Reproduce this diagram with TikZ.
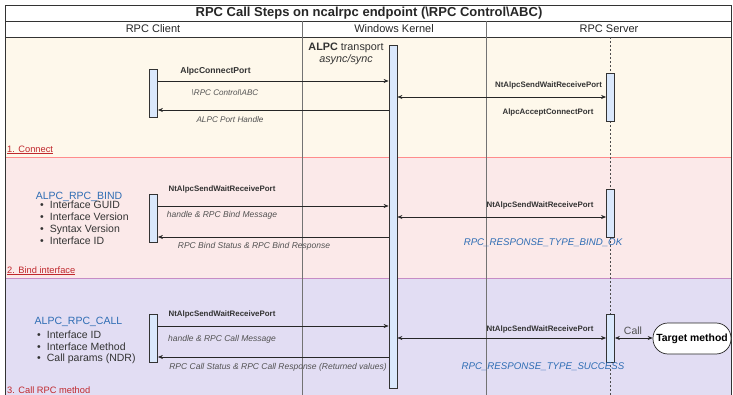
\documentclass[tikz,border=0pt]{standalone}
\usepackage{fontspec}
\setmainfont{Liberation Sans}
\usetikzlibrary{arrows.meta}
\definecolor{laneA}{HTML}{FEF8EB}
\definecolor{laneB}{HTML}{FBE9E9}
\definecolor{laneC}{HTML}{E2DDF3}
\definecolor{barfill}{HTML}{DAE8FC}
\definecolor{lblue}{HTML}{2E6DB4}
\definecolor{lred}{HTML}{C0282D}
\definecolor{txt}{HTML}{333333}
\definecolor{frame}{HTML}{333333}
\tikzset{
  actbar/.style={draw=frame,fill=barfill,line width=0.8pt,minimum width=8pt,inner sep=0pt},
  msg/.style={draw=black!85,line width=0.6pt,-{Stealth[length=5pt,width=4pt]}},
  dmsg/.style={draw=black!85,line width=0.6pt,{Stealth[length=5pt,width=4pt]}-{Stealth[length=5pt,width=4pt]}},
  boldlbl/.style={font=\fontsize{7.9}{9}\selectfont\bfseries,text=txt,inner sep=1pt},
  itlbl/.style={font=\fontsize{8.5}{10}\selectfont\itshape,text=txt!85,inner sep=1pt},
  bluelbl/.style={font=\fontsize{9.7}{11}\selectfont\itshape,text=lblue,inner sep=1pt},
  hdr/.style={font=\fontsize{11}{13}\selectfont,text=black!85},
  lanelbl/.style={font=\fontsize{9.3}{10}\selectfont,text=lred,anchor=south west,inner sep=1pt},
  structlbl/.style={font=\fontsize{10.5}{12}\selectfont,text=lblue,inner sep=1pt},
  bullets/.style={font=\fontsize{10.5}{11.8}\selectfont,text=txt,align=left,anchor=north west,inner sep=0pt},
}
\begin{document}
\begin{tikzpicture}[x=1pt,y=-1pt]
\useasboundingbox (0,0) rectangle (733,395);
% lanes
\fill[laneA] (5,37) rectangle (731,157);
\fill[laneB] (5,157) rectangle (731,278);
\fill[laneC] (5,278) rectangle (731,395);
\draw[draw=red!45!white,line width=0.7pt] (5,157) -- (731,157);
\draw[draw=violet!45!white,line width=0.7pt] (5,278) -- (731,278);
% frame
\draw[frame,line width=0.8pt] (5,395) -- (5,5) -- (731,5) -- (731,395);
\draw[frame,line width=0.8pt] (5,21) -- (731,21);
\draw[frame,line width=0.8pt] (5,37) -- (731,37);
\draw[black!55,line width=0.6pt] (302,21) -- (302,395);
\draw[black!55,line width=0.6pt] (486,21) -- (486,395);
% title and headers
\node[font=\fontsize{13}{15}\selectfont\bfseries,text=black!85] (title) at (369,13) {RPC Call Steps on ncalrpc endpoint (\textbackslash RPC Control\textbackslash ABC)};
\node[hdr] (hclient) at (153,29) {RPC Client};
\node[hdr] (hkernel) at (394,29) {Windows Kernel};
\node[hdr] (hserver) at (609,29) {RPC Server};
% server lifeline
\coordinate (slTop) at (610.5,37);
\coordinate (slBot) at (610.5,395);
\draw[black!70,line width=0.5pt,dash pattern=on 2pt off 2pt] (slTop) -- (slBot);
% kernel bar
\node[actbar,minimum height=343pt] (kb) at (393,216.5) {};
\node[font=\fontsize{10.8}{13}\selectfont,text=txt,align=center] (alpc) at (346,54) {\textbf{ALPC} transport\\[-1.5pt]\textit{async/sync}};
% lane labels
\node[lanelbl] (l1) at (6,155.5) {\underline{1. Connect}};
\node[lanelbl] (l2) at (6,276.5) {\underline{2. Bind interface}};
\node[lanelbl] (l3) at (6,394.5) {3. Call RPC method};

% ---- Connect
\node[actbar,minimum height=48pt] (cb1) at (153.5,93) {};
\node[actbar,minimum height=48pt] (sb1) at (610.5,97) {};
\draw[msg] (cb1.east |- 0,81) -- (kb.west |- 0,81);
\draw[msg] (kb.west |- 0,110) -- (cb1.east |- 0,110);
\node[boldlbl,font=\fontsize{8.6}{10}\selectfont\bfseries] (c1a) at (215.5,71) {AlpcConnectPort};
\node[itlbl,font=\fontsize{8.1}{10}\selectfont\itshape] (c1b) at (225,92.5) {\textbackslash RPC Control\textbackslash ABC};
\node[itlbl,font=\fontsize{8.2}{10}\selectfont\itshape] (c1c) at (230,119.5) {ALPC Port Handle};
\draw[dmsg] (kb.east |- 0,97) -- (sb1.west |- 0,97);
\node[boldlbl] (s1a) at (548.5,85.5) {NtAlpcSendWaitReceivePort};
\node[boldlbl] (s1b) at (548,112) {AlpcAcceptConnectPort};

% ---- Bind
\node[actbar,minimum height=48pt] (cb2) at (153.5,218) {};
\node[actbar,minimum height=48pt] (sb2) at (610.5,213) {};
\node[structlbl] (bindt) at (79,196.5) {ALPC\_RPC\_BIND};
\node[bullets] (bindl) at (40,201) {\textbullet\hspace{6pt}Interface GUID\\\textbullet\hspace{6pt}Interface Version\\\textbullet\hspace{6pt}Syntax Version\\\textbullet\hspace{6pt}Interface ID};
\draw[msg] (cb2.east |- 0,206) -- (kb.west |- 0,206);
\draw[msg] (kb.west |- 0,237) -- (cb2.east |- 0,237);
\node[boldlbl] (b1a) at (222,189) {NtAlpcSendWaitReceivePort};
\node[itlbl] (b1b) at (222,215) {handle \& RPC Bind Message};
\node[itlbl] (b1c) at (254,246.5) {RPC Bind Status \& RPC Bind Response};
\draw[dmsg] (kb.east |- 0,217) -- (sb2.west |- 0,217);
\node[boldlbl] (b2a) at (540,205) {NtAlpcSendWaitReceivePort};
\node[bluelbl] (b2b) at (543,243) {RPC\_RESPONSE\_TYPE\_BIND\_OK};

% ---- Call
\node[actbar,minimum height=48pt] (cb3) at (153.5,338) {};
\node[actbar,minimum height=48pt] (sb3) at (610.5,338) {};
\node[structlbl] (callt) at (78.5,321.5) {ALPC\_RPC\_CALL};
\node[bullets] (calll) at (37,330.5) {\textbullet\hspace{6pt}Interface ID\\\textbullet\hspace{6pt}Interface Method\\\textbullet\hspace{6pt}Call params (NDR)};
\draw[msg] (cb3.east |- 0,326) -- (kb.west |- 0,326);
\draw[msg] (kb.west |- 0,357) -- (cb3.east |- 0,357);
\node[boldlbl] (k1a) at (222,314) {NtAlpcSendWaitReceivePort};
\node[itlbl] (k1b) at (222,339.5) {handle \& RPC Call Message};
\node[itlbl] (k1c) at (278,367) {RPC Call Status \& RPC Call Response (Returned values)};
\draw[dmsg] (kb.east |- 0,338) -- (sb3.west |- 0,338);
\node[boldlbl] (k2a) at (540,329) {NtAlpcSendWaitReceivePort};
\node[bluelbl] (k2b) at (543,367) {RPC\_RESPONSE\_TYPE\_SUCCESS};
\node[draw=black!85,fill=white,line width=0.7pt,rounded corners=15pt,minimum width=78pt,minimum height=31pt,inner sep=0pt,font=\fontsize{10.4}{12}\selectfont\bfseries] (tm) at (692,338.5) {Target method};
\draw[dmsg] (sb3.east |- 0,338) -- (tm.west |- 0,338);
\node[font=\fontsize{10.5}{12}\selectfont,text=txt!85,inner sep=1pt] (calllbl) at (633,331) {Call};
\end{tikzpicture}
\end{document}
